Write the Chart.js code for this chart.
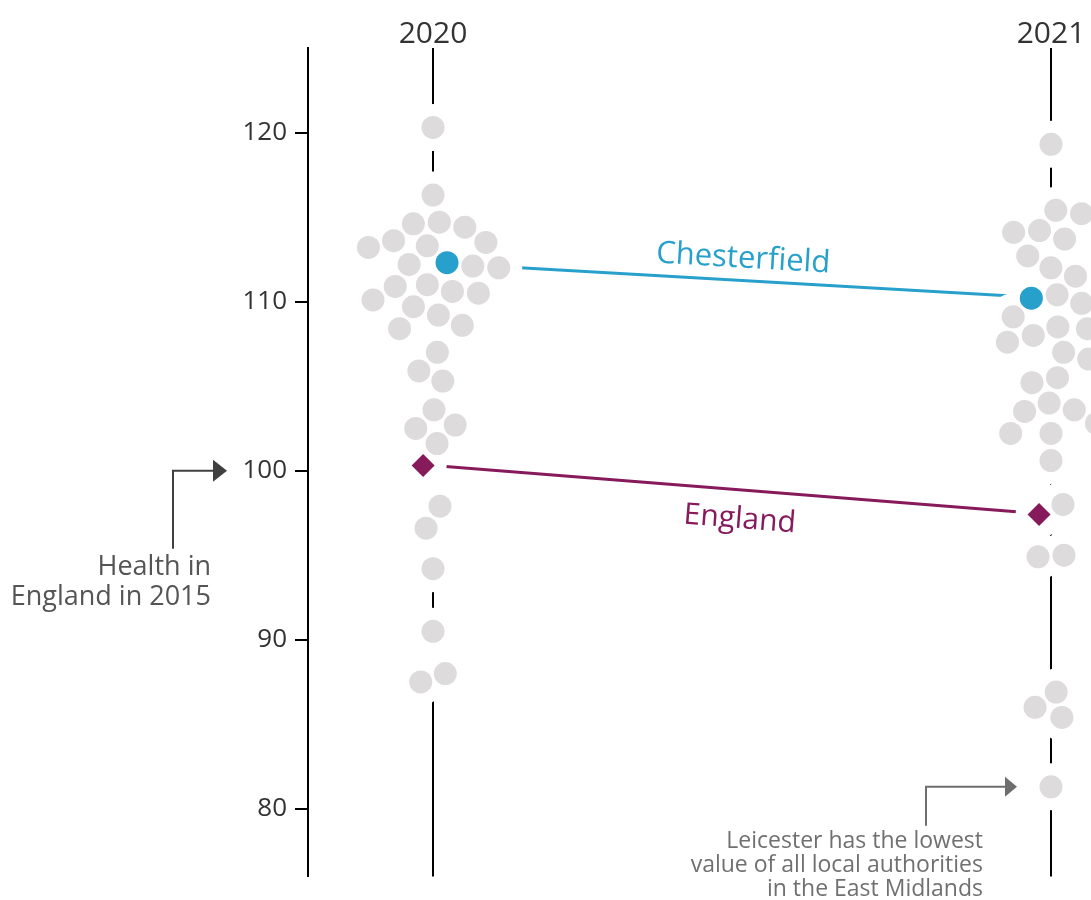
<!DOCTYPE html>
<html>
<head>
<meta charset="utf-8">
<script src="https://cdn.jsdelivr.net/npm/chart.js@4/dist/chart.umd.min.js"></script>
<style>
  body { margin: 0; background: #fff; }
  #wrap { width: 1091px; height: 900px; }
</style>
</head>
<body>
<div id="wrap"><canvas id="swarmChart" width="1091" height="900"></canvas></div>
<script>
// years on the top axis, ticks on the left axis
var years = ['2020', '2021'];
var yTicks = [80, 90, 100, 110, 120];
var healthBase = 100; // health in England in 2015

// local authorities in the East Midlands (other than Chesterfield)
var others2020 = [120.3, 116.3, 114.4, 114.6, 114.7, 113.2, 113.3, 113.5, 113.6, 112.0, 112.1, 112.2,
  111.0, 110.1, 110.5, 110.9, 110.6, 109.7, 109.2, 108.6, 108.4, 107.0, 105.9, 105.3, 103.6, 102.5,
  102.7, 101.6, 97.9, 96.6, 94.2, 90.5, 88.0, 87.5];
var others2021 = [119.3, 115.4, 115.2, 114.1, 114.2, 113.7, 112.7, 112.0, 111.5, 110.4, 109.9, 109.1,
  108.4, 108.5, 108.0, 107.6, 106.6, 107.0, 105.5, 105.2, 104.0, 103.5, 103.6, 102.8, 102.2, 102.2,
  100.6, 98.0, 94.9, 95.0, 86.9, 86.0, 85.4, 81.3];
var chesterfield = [112.3, 110.2];
var england = [100.3, 97.4];

var others = [others2020, others2021];

var BLUE = '#27a0cc';
var PURPLE = '#871a5b';
var GREY = '#dddbdc';
var FONT = '"Open Sans", "Noto Sans", sans-serif';

function pts(vals) {
  return vals.map(function (v, i) { return { x: i, y: v }; });
}

var annotations = {
  id: 'annotations',
  afterDatasetsDraw: function (chart) {
    var ctx = chart.ctx, xs = chart.scales.x, ys = chart.scales.y;

    function lineLabel(text, vals, color, size, off) {
      var x0 = xs.getPixelForValue(0), y0 = ys.getPixelForValue(vals[0]);
      var x1 = xs.getPixelForValue(1), y1 = ys.getPixelForValue(vals[1]);
      ctx.save();
      ctx.translate((x0 + x1) / 2, (y0 + y1) / 2);
      ctx.rotate(Math.atan2(y1 - y0, x1 - x0));
      ctx.font = size + 'px ' + FONT;
      ctx.fillStyle = color;
      ctx.textAlign = 'center';
      ctx.textBaseline = 'alphabetic';
      ctx.fillText(text, 0, off);
      ctx.restore();
    }
    lineLabel('Chesterfield', chesterfield, BLUE, 31, -13);
    lineLabel('England', england, PURPLE, 30, 38);

    function elbow(color, xv, yTop, yBottom, xEnd, head, halfH) {
      ctx.save();
      ctx.strokeStyle = color;
      ctx.fillStyle = color;
      ctx.lineWidth = 2;
      ctx.beginPath();
      ctx.moveTo(xv, yBottom);
      ctx.lineTo(xv, yTop);
      ctx.lineTo(xEnd, yTop);
      ctx.stroke();
      ctx.beginPath();
      ctx.moveTo(xEnd, yTop - halfH);
      ctx.lineTo(xEnd + head, yTop);
      ctx.lineTo(xEnd, yTop + halfH);
      ctx.closePath();
      ctx.fill();
      ctx.restore();
    }

    // health in England in 2015
    var p = ys.getPixelForValue(healthBase);
    elbow('#404040', 173, p, p + 78, 213, 14, 11);
    ctx.save();
    ctx.font = '27px ' + FONT;
    ctx.fillStyle = '#555555';
    ctx.textAlign = 'right';
    ctx.fillText('Health in', 211, p + 104);
    ctx.fillText('England in 2015', 211, p + 134);
    ctx.restore();

    // lowest value
    var q = ys.getPixelForValue(Math.min.apply(null, others2021));
    elbow('#6e6e6e', 926, q, q + 39, 1005, 12, 10);
    ctx.save();
    ctx.font = '23px ' + FONT;
    ctx.fillStyle = '#707070';
    ctx.textAlign = 'right';
    ctx.fillText('Leicester has the lowest', 983, q + 61);
    ctx.fillText('value of all local authorities', 983, q + 85);
    ctx.fillText('in the East Midlands', 983, q + 109);
    ctx.restore();
  }
};

// beeswarm: greedy start, then relax towards the column centre with collisions
function placeSwarm(chart) {
  var xs = chart.scales.x, ys = chart.scales.y;
  var D = 26;
  var grey = [], blue = [], purple = [];
  years.forEach(function (yr, c) {
    var marks = others[c].map(function (v) { return { v: v, kind: 'grey' }; });
    marks.push({ v: chesterfield[c], kind: 'blue' });
    marks.push({ v: england[c], kind: 'england' });
    marks.forEach(function (m) { m.py = ys.getPixelForValue(m.v); });
    var order = marks.slice().sort(function (a, b) { return a.py - b.py; });
    var placed = [];
    order.forEach(function (m, n) {
      var cands = [0];
      placed.forEach(function (p) {
        var dy = Math.abs(p.py - m.py);
        if (dy < D) {
          var dx = Math.sqrt(D * D - dy * dy);
          cands.push(p.dx + dx, p.dx - dx);
        }
      });
      var sgn = n % 2 ? 1 : -1;
      cands.sort(function (a, b) { return Math.abs(a) - Math.abs(b) || sgn * (a - b); });
      for (var k = 0; k < cands.length; k++) {
        var ok = placed.every(function (p) {
          var ex = p.dx - cands[k], ey = p.py - m.py;
          return ex * ex + ey * ey >= D * D - 0.5;
        });
        if (ok) { m.dx = cands[k]; break; }
      }
      placed.push(m);
    });
    // relax
    for (var it = 0; it < 400; it++) {
      var pull = it < 300 ? 0.97 : 1;
      marks.forEach(function (m) { m.dx *= pull; });
      for (var i = 0; i < marks.length; i++) {
        for (var j = i + 1; j < marks.length; j++) {
          var a = marks[i], b = marks[j];
          var dy = Math.abs(a.py - b.py);
          if (dy >= D) continue;
          var need = Math.sqrt(D * D - dy * dy);
          var diff = b.dx - a.dx;
          if (Math.abs(diff) < need) {
            var s = diff > 0 ? 1 : (diff < 0 ? -1 : ((i + j) % 2 ? 1 : -1));
            var push = (need - Math.abs(diff)) / 2;
            a.dx -= s * push;
            b.dx += s * push;
          }
        }
      }
    }
    var cx = xs.getPixelForValue(c);
    marks.forEach(function (m) {
      var pt = { x: xs.getValueForPixel(cx + m.dx), y: m.v };
      if (m.kind === 'blue') blue.push(pt);
      else if (m.kind === 'england') purple.push(pt);
      else grey.push(pt);
    });
  });
  var ds = chart.data.datasets;
  ds[0].data = blue;
  ds[1].data = purple;
  ds[2].data = grey;
  ds[3].data = grey.concat(blue, purple);
}

var greyStart = others2020.map(function (v) { return { x: 0, y: v }; })
  .concat(others2021.map(function (v) { return { x: 1, y: v }; }));

var chart = new Chart(document.getElementById('swarmChart'), {
  type: 'scatter',
  data: {
    datasets: [
      { label: 'Chesterfield', data: pts(chesterfield), backgroundColor: BLUE, borderWidth: 0, pointRadius: 11.5 },
      { label: 'England', data: pts(england), backgroundColor: PURPLE, borderWidth: 0, pointRadius: 11.5, pointStyle: 'rectRot' },
      { label: 'Local authorities', data: greyStart, backgroundColor: GREY, borderWidth: 0, pointRadius: 11.5 },
      { label: 'halo', data: [], backgroundColor: '#ffffff', borderWidth: 0, pointRadius: 23.5 },
      { label: 'Chesterfield line', data: pts(chesterfield), showLine: true, borderColor: BLUE, borderWidth: 3, pointRadius: 0 },
      { label: 'England line', data: pts(england), showLine: true, borderColor: PURPLE, borderWidth: 3, pointRadius: 0 }
    ]
  },
  options: {
    responsive: false,
    animation: false,
    events: [],
    layout: { autoPadding: false, padding: { top: 0, left: 0, right: 0, bottom: 23 } },
    plugins: { legend: { display: false }, tooltip: { enabled: false } },
    scales: {
      x: {
        type: 'linear',
        position: 'top',
        min: -0.2023,
        max: 1.0647,
        afterBuildTicks: function (scale) {
          scale.ticks = years.map(function (y, i) { return { value: i }; });
        },
        afterFit: function (scale) {
          scale.height = 48;
          scale.paddingLeft = 0;
          scale.paddingRight = 0;
        },
        border: { display: false },
        grid: { color: '#000000', lineWidth: 2, drawTicks: false },
        ticks: {
          autoSkip: false,
          maxRotation: 0,
          padding: -4,
          color: '#333333',
          font: { family: FONT, size: 30 },
          callback: function (v) { return years[v] || ''; }
        }
      },
      y: {
        min: 76,
        max: 125,
        afterBuildTicks: function (scale) {
          scale.ticks = yTicks.map(function (v) { return { value: v }; });
        },
        afterFit: function (scale) { scale.width = 308; },
        border: { display: true, color: '#000000', width: 2 },
        grid: { drawOnChartArea: false, drawTicks: true, tickLength: 13, color: '#000000', lineWidth: 2 },
        ticks: {
          padding: 8,
          color: '#333333',
          font: { family: FONT, size: 26 }
        }
      }
    }
  },
  plugins: [annotations]
});

placeSwarm(chart);
chart.update('none');
</script>
</body>
</html>
